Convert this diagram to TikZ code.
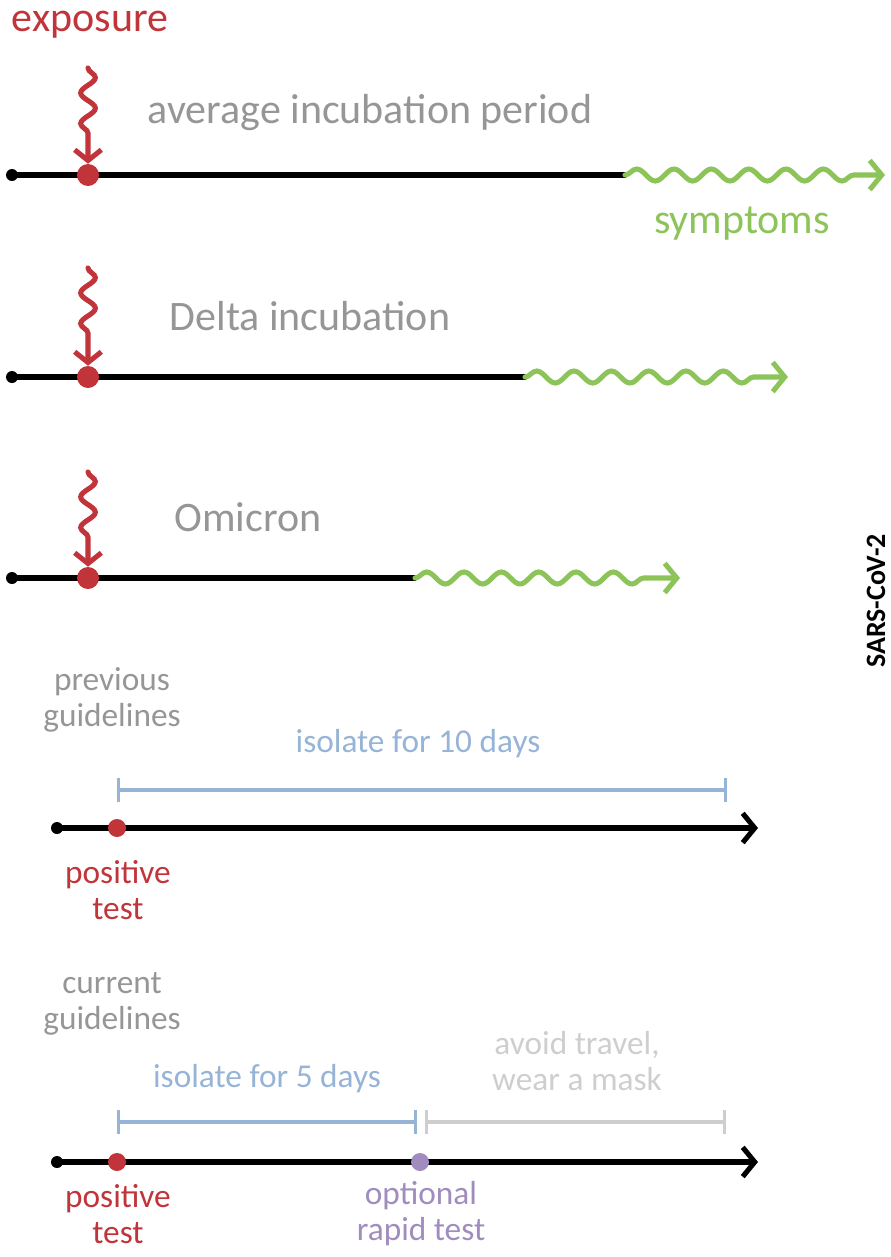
\documentclass[tikz,border=0pt]{standalone}
\usepackage{fontspec}
\setmainfont{Carlito}
\usetikzlibrary{arrows.meta,decorations.pathmorphing,positioning,backgrounds}

\definecolor{expred}{RGB}{192,52,58}
\definecolor{labelgray}{RGB}{150,150,150}
\definecolor{sympgreen}{RGB}{141,196,90}
\definecolor{isoblue}{RGB}{150,180,214}
\definecolor{avoidgray}{RGB}{206,206,206}
\definecolor{rapidpurple}{RGB}{160,140,190}

\begin{document}
\begin{tikzpicture}[x=0.75pt,y=0.75pt,yscale=-1,
  bigtext/.style={font=\fontsize{31.5}{34}\selectfont, inner sep=0pt},
  smalltext/.style={font=\fontsize{25}{27}\selectfont, inner sep=0pt, align=center},
  startdot/.style={circle, fill=black, minimum size=9pt, inner sep=0pt},
  expdot/.style={circle, fill=expred, minimum size=16.5pt, inner sep=0pt},
  testdot/.style={circle, fill=#1, minimum size=13.5pt, inner sep=0pt},
  timeline/.style={line width=3.8pt, line cap=round, black},
  timearrow/.style={timeline, -{Straight Barb[length=9pt,width=22pt,line width=3.8pt]}},
  sympwave/.style={line width=3.8pt, sympgreen, line cap=round,
    -{Straight Barb[length=9pt,width=22pt,line width=3.8pt]},
    decorate, decoration={snake, amplitude=4.5pt, segment length=28pt, post length=14pt}},
  expwave/.style={line width=3.8pt, expred, line cap=round,
    -{Straight Barb[length=8pt,width=20pt,line width=3.8pt]},
    decorate, decoration={snake, amplitude=5.5pt, segment length=23pt, post length=18pt}},
  interval/.style={line width=2.4pt, #1,
    {Bar[width=18pt,line width=2.2pt]}-{Bar[width=18pt,line width=2.2pt]}}
]
\useasboundingbox (0,0) rectangle (890,1257);

%Timeline: average incubation period
\node[startdot] (s1) at (12,175) {};
\node[expdot] (e1) at (88,175) {};
\coordinate (m1) at (625,175);
\coordinate (t1) at (885,175);
\coordinate (x1) at (88,68);
\node[bigtext, text=expred] (exp) at (90,25) {exposure};
\node[bigtext, text=labelgray] (avg) at (370,113) {average incubation period};
\node[bigtext, text=sympgreen] (sym) at (742,224) {symptoms};
\begin{scope}[on background layer]
\draw[timeline] (s1.center) -- (e1.center) -- (m1);
\end{scope}
\draw[sympwave] (m1) -- (t1);
\draw[expwave] (x1) -- (e1.north);

%Timeline: Delta
\node[startdot] (s2) at (12,377) {};
\node[expdot] (e2) at (88,377) {};
\coordinate (m2) at (525,377);
\coordinate (t2) at (788,377);
\coordinate (x2) at (88,268);
\node[bigtext, text=labelgray] (del) at (310,316) {Delta incubation};
\begin{scope}[on background layer]
\draw[timeline] (s2.center) -- (e2.center) -- (m2);
\end{scope}
\draw[sympwave] (m2) -- (t2);
\draw[expwave] (x2) -- (e2.north);

%Timeline: Omicron
\node[startdot] (s3) at (12,578) {};
\node[expdot] (e3) at (88,578) {};
\coordinate (m3) at (415,578);
\coordinate (t3) at (680,578);
\coordinate (x3) at (88,472);
\node[bigtext, text=labelgray] (omi) at (248,517) {Omicron};
\begin{scope}[on background layer]
\draw[timeline] (s3.center) -- (e3.center) -- (m3);
\end{scope}
\draw[sympwave] (m3) -- (t3);
\draw[expwave] (x3) -- (e3.north);

%Side title along the right edge
\node[font=\fontsize{21}{24}\selectfont\bfseries, rotate=90, anchor=west, inner sep=0pt] (sars) at (876,668) {SARS-CoV-2};

%Previous guidelines
\node[smalltext, text=labelgray] (prev) at (112,700) {previous\\guidelines};
\coordinate (b1s) at (117,790);
\coordinate (b1e) at (727,790);
\node[smalltext, text=isoblue] (iso10) at (418,744) {isolate for 10 days};
\draw[interval=isoblue] (b1s) -- (b1e);
\node[startdot] (s4) at (57,828) {};
\node[testdot=expred] (p4) at (117,828) {};
\coordinate (t4) at (758,828);
\node[smalltext, text=expred] (pos4) at (118,890) {positive\\test};
\begin{scope}[on background layer]
\draw[timearrow] (s4.center) -- (p4.center) -- (t4);
\end{scope}

%Current guidelines
\node[smalltext, text=labelgray] (curr) at (112,1004) {current\\guidelines};
\coordinate (b2s) at (117,1122);
\coordinate (b2e) at (417,1122);
\coordinate (b3s) at (425,1122);
\coordinate (b3e) at (726,1122);
\node[smalltext, text=isoblue] (iso5) at (267,1079) {isolate for 5 days};
\node[smalltext, text=avoidgray] (avoid) at (577,1061) {avoid travel,\\wear a mask};
\draw[interval=isoblue] (b2s) -- (b2e);
\draw[interval=avoidgray] (b3s) -- (b3e);
\node[startdot] (s5) at (57,1162) {};
\node[testdot=expred] (p5) at (117,1162) {};
\node[testdot=rapidpurple] (r5) at (420,1162) {};
\coordinate (t5) at (758,1162);
\node[smalltext, text=expred] (pos5) at (118,1214) {positive\\test};
\node[smalltext, text=rapidpurple] (rap5) at (421,1214) {optional\\rapid test};
\begin{scope}[on background layer]
\draw[timearrow] (s5.center) -- (p5.center) -- (r5.center) -- (t5);
\end{scope}

\end{tikzpicture}
\end{document}
